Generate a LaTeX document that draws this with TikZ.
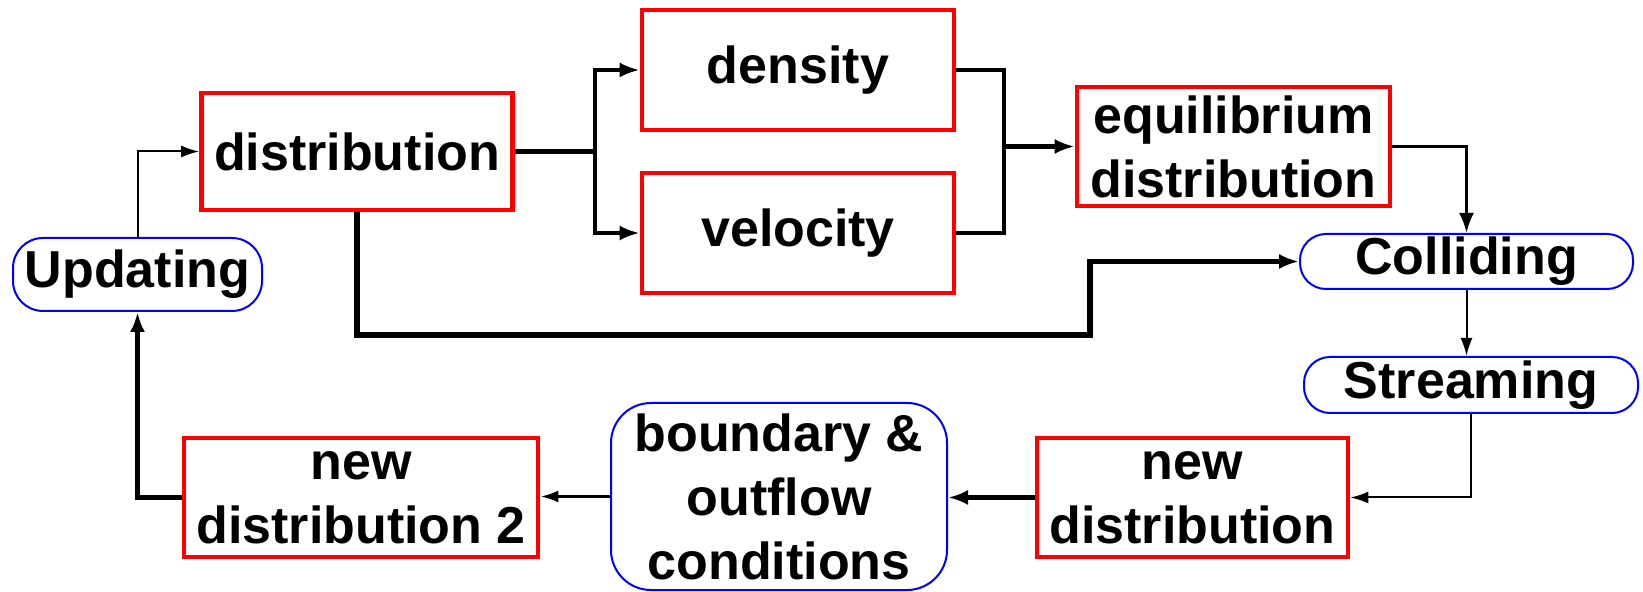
\documentclass[tikz,border=0pt]{standalone}
\usepackage{fontspec}
\setmainfont{Liberation Sans}
\usetikzlibrary{arrows.meta}
\begin{document}
\begin{tikzpicture}[x=0.5pt,y=-0.5pt,
  txt/.style={inner sep=0pt, align=center, font=\fontsize{26}{32}\selectfont\bfseries},
  redbox/.style={txt, draw=red, line width=2.3pt, fill=white},
  bluebox/.style={txt, draw=blue, line width=1pt, fill=white},
  ln1/.style={line width=1pt},
  ln2/.style={line width=1.5pt},
  ln3/.style={line width=2.3pt},
  ln4/.style={line width=2.8pt},
  arr/.style={-{Latex[length=10pt,width=7.5pt]}},
  arrs/.style={-{Latex[length=9pt,width=6pt]}}]
\path[use as bounding box] (0,0) rectangle (1643,592);

\node[redbox, minimum width=155.5pt, minimum height=58.5pt] (dist) at (357,151.5) {distribution};
\node[redbox, minimum width=156pt, minimum height=60pt] (dens) at (798,70) {density};
\node[redbox, minimum width=156pt, minimum height=60pt] (vel) at (798,233) {velocity};
\node[redbox, minimum width=156.5pt, minimum height=59.5pt] (eq) at (1233.5,146.5) {equilibrium\\distribution};
\node[bluebox, rounded corners=15pt, minimum width=124.5pt, minimum height=36.5pt] (upd) at (137.5,274.5) {Updating};
\node[bluebox, rounded corners=13pt, minimum width=166.5pt, minimum height=27.5pt] (coll) at (1466.5,261.5) {Colliding};
\node[bluebox, rounded corners=13pt, minimum width=167pt, minimum height=28pt] (strm) at (1471,385) {Streaming};
\node[redbox, minimum width=155.5pt, minimum height=59.5pt] (newd) at (1192.5,497.5) {new\\distribution};
\node[bluebox, rounded corners=20pt, minimum width=168pt, minimum height=93.5pt] (bnd) at (779,496.5) {boundary \&\\outflow\\conditions};
\node[redbox, minimum width=177pt, minimum height=59.5pt] (nd2) at (361,497.5) {new\\distribution 2};

\coordinate (br) at (595,151.5);
\coordinate (jn) at (1004,146.5);
\coordinate (c1) at (357,335);
\coordinate (c2) at (1090,335);

\draw[ln1, arrs] (upd.north) |- (dist.west);
\draw[ln3] (dist.east) -- (br);
\draw[ln3, arr] (br) |- (dens.west);
\draw[ln3, arr] (br) |- (vel.west);
\draw[ln3] (dens.east) -| (jn);
\draw[ln3] (vel.east) -| (jn);
\draw[ln3, arr] (jn) -- (eq.west);
\draw[ln2, arr] (eq.east) -| (coll.north);
\draw[ln4, arr] (dist.south) -- (c1) -- (c2) |- (coll.west);
\draw[ln1, arrs] (coll.south) -- (coll.south |- strm.north);
\draw[ln1, arrs] (strm.south) |- (newd.east);
\draw[ln3, arr] (newd.west) -- (newd.west -| bnd.east);
\draw[ln2, arrs] (bnd.west) -- (bnd.west -| nd2.east);
\draw[ln3, arr] (nd2.west) -| (upd.south);
\end{tikzpicture}
\end{document}
